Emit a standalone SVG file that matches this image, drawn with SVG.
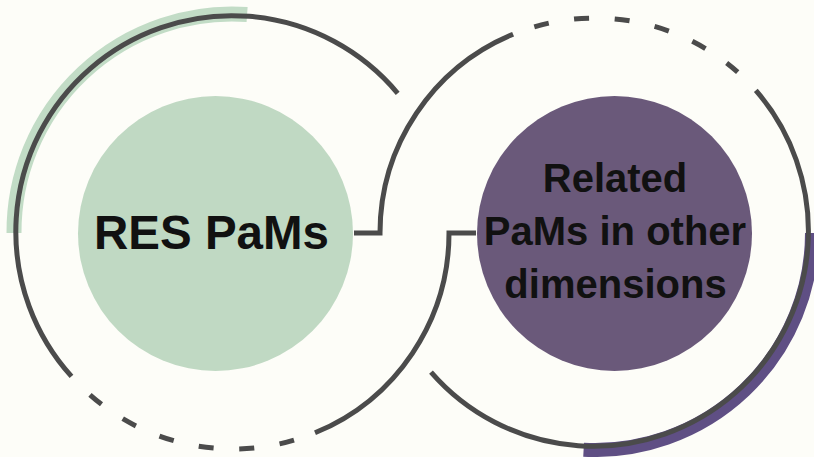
<svg xmlns="http://www.w3.org/2000/svg" width="814" height="457" viewBox="0 0 814 457">
  <style>
    .ring { fill: none; stroke: #4b4b4b; stroke-width: 5; stroke-linecap: butt; }
    .dash { stroke-dasharray: 15 25.6; }
    .label { font-family: "Liberation Sans", Arial, sans-serif; font-weight: bold; fill: #111111; text-anchor: middle; }
  </style>
  <rect width="814" height="457" fill="#fdfdf8"/>
  <g id="accents">
    <path d="M14 233 A218 218 0 0 1 247.1 14.5" fill="none" stroke="#c2dcc6" stroke-width="15"/>
    <path d="M812 233 A217 217 0 0 1 583.6 449.7" fill="none" stroke="#5f4f84" stroke-width="14"/>
  </g>
  <g id="node-res">
    <circle cx="215.5" cy="233.5" r="137.5" fill="#c0d9c3"/>
    <text class="label" x="211.5" y="248.5" font-size="47.5">RES PaMs</text>
  </g>
  <g id="node-related">
    <circle cx="614.5" cy="233.5" r="137.5" fill="#6a597a"/>
    <text class="label" x="615" y="192" font-size="40">Related</text>
    <text class="label" x="615" y="245" font-size="40">PaMs in other</text>
    <text class="label" x="615.5" y="298" font-size="40">dimensions</text>
  </g>
  <g id="connectors">
    <path class="ring" d="M71.5 376.4 A216 216 0 1 1 397.7 93.3"/>
    <path class="ring dash" d="M294.0 440.2 A216 216 0 0 1 89.6 394.5"/>
    <path class="ring" d="M476 233 H449 A216 216 0 0 1 315.0 432.8"/>
    <path class="ring" d="M354 233 H380 A215 215 0 0 1 513.1 34.2"/>
    <path class="ring dash" d="M534.3 26.8 A215 215 0 0 1 737.7 72.2"/>
    <path class="ring" d="M755.8 90.3 A215 215 0 1 1 431.0 372.1"/>
  </g>
</svg>
